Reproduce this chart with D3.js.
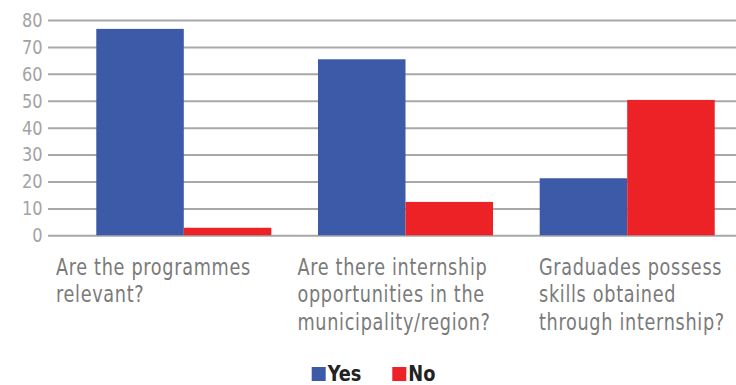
<!DOCTYPE html>
<html>
<head>
<meta charset="utf-8">
<script src="https://cdn.jsdelivr.net/npm/d3@7"></script>
<style>
  html, body { margin: 0; padding: 0; background: #fff; }
  svg { display: block; }
</style>
</head>
<body>
<svg id="chart" width="736" height="385"></svg>
<script>
const categories = [
  ["Are the programmes", "relevant?"],
  ["Are there internship", "opportunities in the", "municipality/region?"],
  ["Graduades possess", "skills obtained", "through internship?"]
];
const seriesNames = ["Yes", "No"];
const yesValues = [76.7, 65.4, 21.2];
const noValues = [2.8, 12.4, 50.3];
const yTicks = [0, 10, 20, 30, 40, 50, 60, 70, 80];
const colors = ["#3d5aa8", "#ec2227"];

const svg = d3.select("#chart");
const FONT = "'DejaVu Sans Condensed', 'Liberation Sans Narrow', sans-serif";

const y = d3.scaleLinear().domain([0, 80]).range([235.3, 20]);
const idx = d3.range(categories.length);
const x0 = d3.scaleBand().domain(idx).range([73, 738]).paddingInner(0.2105).paddingOuter(0.105);
const x1 = d3.scaleBand().domain(seriesNames).range([0, x0.bandwidth()]);
const xLabel = d3.scaleBand().domain(idx).range([56, 56 + 3 * 241.5]);

// gridlines + y labels
const yAxis = d3.axisLeft(y).tickValues(yTicks).tickSize(-(736 - 48)).tickPadding(5);
const ga = svg.append("g").attr("transform", "translate(48,0)").call(yAxis);
ga.select(".domain").remove();
ga.selectAll(".tick line").attr("stroke", "#a8a8a8").attr("stroke-width", 2);
ga.selectAll(".tick text")
  .attr("fill", "#a3a3a3")
  .style("font-family", FONT)
  .style("font-size", "20px")
  .attr("transform", "translate(-1,0) scale(0.9,1)");

// bars
const data = idx.map(i => ({i, values: [yesValues[i], noValues[i]]}));
const groups = svg.append("g").selectAll("g").data(data).join("g")
  .attr("transform", d => `translate(${x0(d.i)},0)`);
groups.selectAll("rect").data(d => d.values.map((v, k) => ({v, k})))
  .join("rect")
  .attr("x", d => x1(seriesNames[d.k]))
  .attr("width", x1.bandwidth())
  .attr("y", d => y(d.v))
  .attr("height", d => y(0) - y(d.v))
  .attr("fill", d => colors[d.k]);

// x labels
const lab = svg.append("g").selectAll("text").data(idx).join("text")
  .attr("x", i => xLabel(i))
  .attr("y", 275)
  .attr("fill", "#7a7a7a")
  .style("font-family", FONT)
  .style("font-size", "22.5px")
  .style("letter-spacing", "0.8px");
lab.selectAll("tspan").data(i => categories[i]).join("tspan")
  .attr("x", function() { return d3.select(this.parentNode).attr("x"); })
  .attr("dy", (d, k) => k === 0 ? 0 : 27.5)
  .text(d => d);
const firstTspan = lab.filter(i => i === 0).select("tspan").node();
const wLab = firstTspan.getComputedTextLength();
const sxLab = 195 / wLab;
lab.attr("transform", i => `translate(${xLabel(i) * (1 - sxLab)},0) scale(${sxLab},1)`);

// legend
const legendX = d3.scaleOrdinal().domain(seriesNames).range([311.7, 392.3]);
const lg = svg.append("g").selectAll("g").data(seriesNames).join("g")
  .attr("transform", d => `translate(${legendX(d)},367)`);
lg.append("rect").attr("width", 14).attr("height", 14).attr("fill", (d, k) => colors[k]);
lg.append("text").attr("x", 16).attr("y", 14)
  .attr("fill", "#222")
  .style("font-family", FONT)
  .style("font-weight", "bold")
  .style("font-size", "22px")
  .attr("transform", "translate(1.6,0) scale(0.9,1)")
  .text(d => d);
</script>
</body>
</html>
